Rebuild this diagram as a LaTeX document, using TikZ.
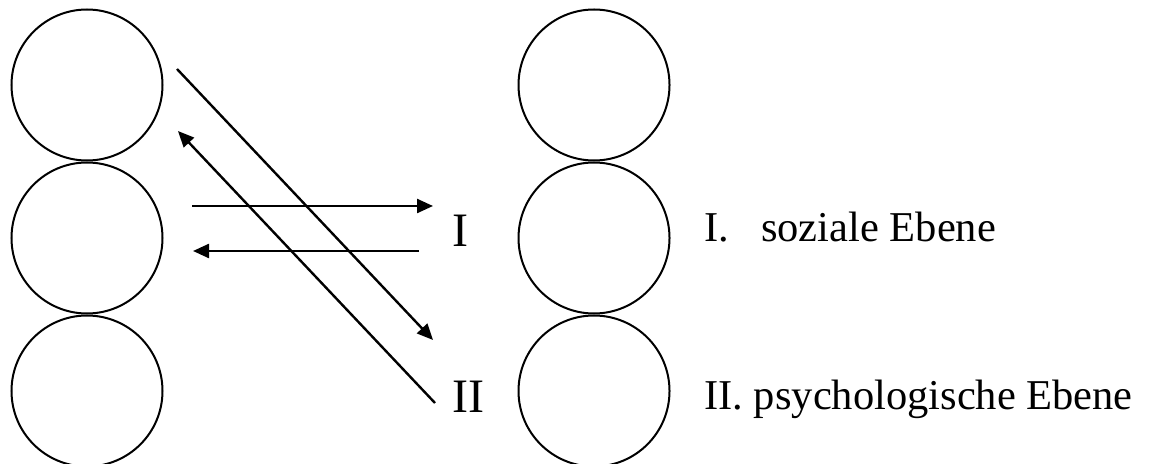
\documentclass[tikz,border=0pt]{standalone}
\usepackage{fontspec}
\setmainfont{Liberation Serif}
\usepackage{tikz}
\usetikzlibrary{positioning, arrows.meta}
\tikzset{
  ring/.style={circle, draw, line width=1pt, minimum size=75.5pt, inner sep=0pt},
  lbl/.style={anchor=base west, inner sep=0pt, font=\fontsize{21.25}{26}\selectfont},
  big/.style={lbl, font=\fontsize{24}{29}\selectfont},
  arr/.style={-{Triangle[length=8pt, width=7pt]}, line width=1.2pt},
}
\begin{document}
\begin{tikzpicture}[x=0.5pt, y=-0.5pt, node distance=0pt]
  \useasboundingbox (0,0) rectangle (1154,464);
  % left column
  \node[ring] (l1) at (87,85) {};
  \node[ring, below=of l1] (l2) {};
  \node[ring, below=of l2] (l3) {};
  % right column
  \node[ring] (r1) at (594,85) {};
  \node[ring, below=of r1] (r2) {};
  \node[ring, below=of r2] (r3) {};
  % levels
  \node[big] (i) at (452,247) {I};
  \node[big] (ii) at (452,412) {II};
  \node[lbl] (ti) at (704,242) {I.\hspace{16pt}soziale Ebene};
  \node[lbl] (tii) at (704,409) {II. psychologische Ebene};
  % connector ends
  \coordinate (a1) at (177,69);
  \coordinate (a2) at (433,340);
  \coordinate (b1) at (435,403);
  \coordinate (b2) at (178,131);
  \coordinate (c1) at (192,206);
  \coordinate (c2) at (433,206);
  \coordinate (d1) at (419,251);
  \coordinate (d2) at (193,251);
  \draw[arr] (a1) -- (a2);
  \draw[arr] (b1) -- (b2);
  \draw[arr] (c1) -- (c2);
  \draw[arr] (d1) -- (d2);
\end{tikzpicture}
\end{document}
